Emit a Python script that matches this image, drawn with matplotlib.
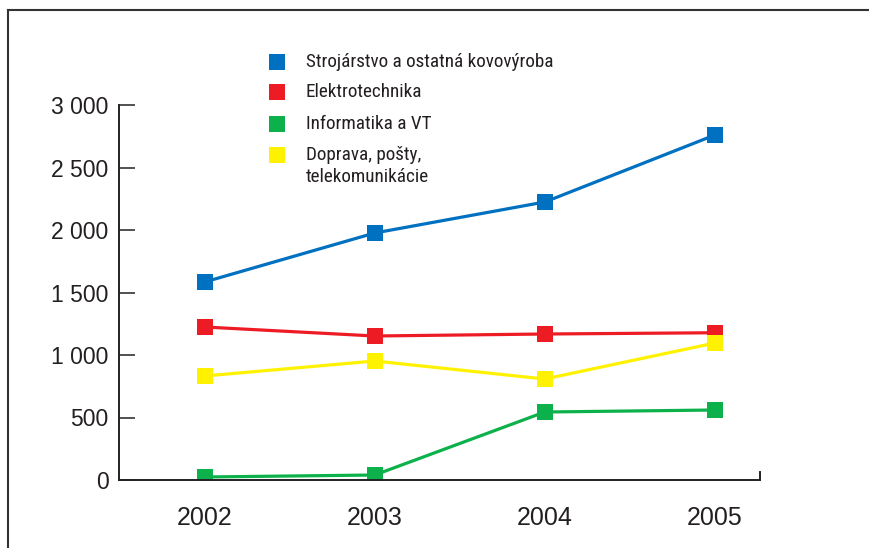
import matplotlib
matplotlib.use('Agg')
import matplotlib.pyplot as plt
from matplotlib.lines import Line2D
from matplotlib.ticker import FuncFormatter
from matplotlib import font_manager

years = ['2002', '2003', '2004', '2005']
strojarstvo = [1584, 1976, 2224, 2760]
elektro = [1224, 1152, 1168, 1178]
informatika = [24, 40, 544, 560]
doprava = [832, 952, 808, 1096]

labels = ['Strojárstvo a ostatná kovovýroba', 'Elektrotechnika', 'Informatika a VT',
          'Doprava, pošty,\ntelekomunikácie']
colors = ['#0070c0', '#ed1c24', '#0db14b', '#fff200']
series = [strojarstvo, elektro, informatika, doprava]

plt.rcParams['font.family'] = ['Liberation Sans', 'DejaVu Sans']
txt_color = '#231f20'

# condensed face for the legend, if one is around
names = {f.name for f in font_manager.fontManager.ttflist}
narrow = [n for n in ['Liberation Sans Narrow', 'Roboto Condensed', 'Open Sans Condensed']
          if n in names]
if narrow:
    leg_font = dict(family=[narrow[0], 'DejaVu Sans'])
else:
    leg_font = dict(family=['DejaVu Sans'], stretch='condensed')

fig = plt.figure(figsize=(8.7, 5.48), dpi=100)
ax = fig.add_axes([119.5 / 870, 68 / 548, 640.5 / 870, 375 / 548])

x = list(range(len(years)))
for vals, col in zip(series, colors):
    ax.plot(x, vals, color=col, lw=2.3, marker='s', markersize=11.5,
            markeredgewidth=0, solid_capstyle='butt')

ax.set_xlim(-0.5, 3.265)
ax.set_ylim(0, 3000)
ax.set_xticks(x)
ax.set_xticklabels(years)
ax.set_yticks(range(0, 3001, 500))
ax.yaxis.set_major_formatter(FuncFormatter(lambda v, p: f'{int(v):,}'.replace(',', ' ')))
ax.tick_params(axis='y', direction='in', length=11.2, width=1.2, color='#333333',
               pad=8, labelsize=16.5, labelcolor=txt_color)
ax.tick_params(axis='x', length=0, pad=19, labelsize=18, labelcolor=txt_color)
for s in ['top', 'right']:
    ax.spines[s].set_visible(False)
for s in ['left', 'bottom']:
    ax.spines[s].set_color('#222222')
    ax.spines[s].set_linewidth(1.4)
# small closing tick at the right end of the x axis
ax.axvline(3.265, ymin=0, ymax=8 / 375, color='#222222', lw=1.4, clip_on=False)

# legend, markers next to the first line of each label
leg_y = [62, 92, 124, 155]
for lab, col, yy in zip(labels, colors, leg_y):
    fy = 1 - yy / 548
    fig.add_artist(Line2D([277 / 870], [fy], marker='s', markersize=11.5,
                          markeredgewidth=0, color=col, transform=fig.transFigure))
    fig.text(306 / 870, fy + 9 / 548, lab, ha='left', va='top', fontsize=13.8,
             color=txt_color, linespacing=1.25, **leg_font)

# frame lines at top and left
fig.add_artist(Line2D([8 / 870, 1], [1 - 10 / 548, 1 - 10 / 548], color='#333333',
                      lw=1.5, transform=fig.transFigure))
fig.add_artist(Line2D([8 / 870, 8 / 870], [0, 1 - 10 / 548], color='#333333',
                      lw=1.5, transform=fig.transFigure))

fig.savefig('out.png', dpi=100)
plt.close(fig)
